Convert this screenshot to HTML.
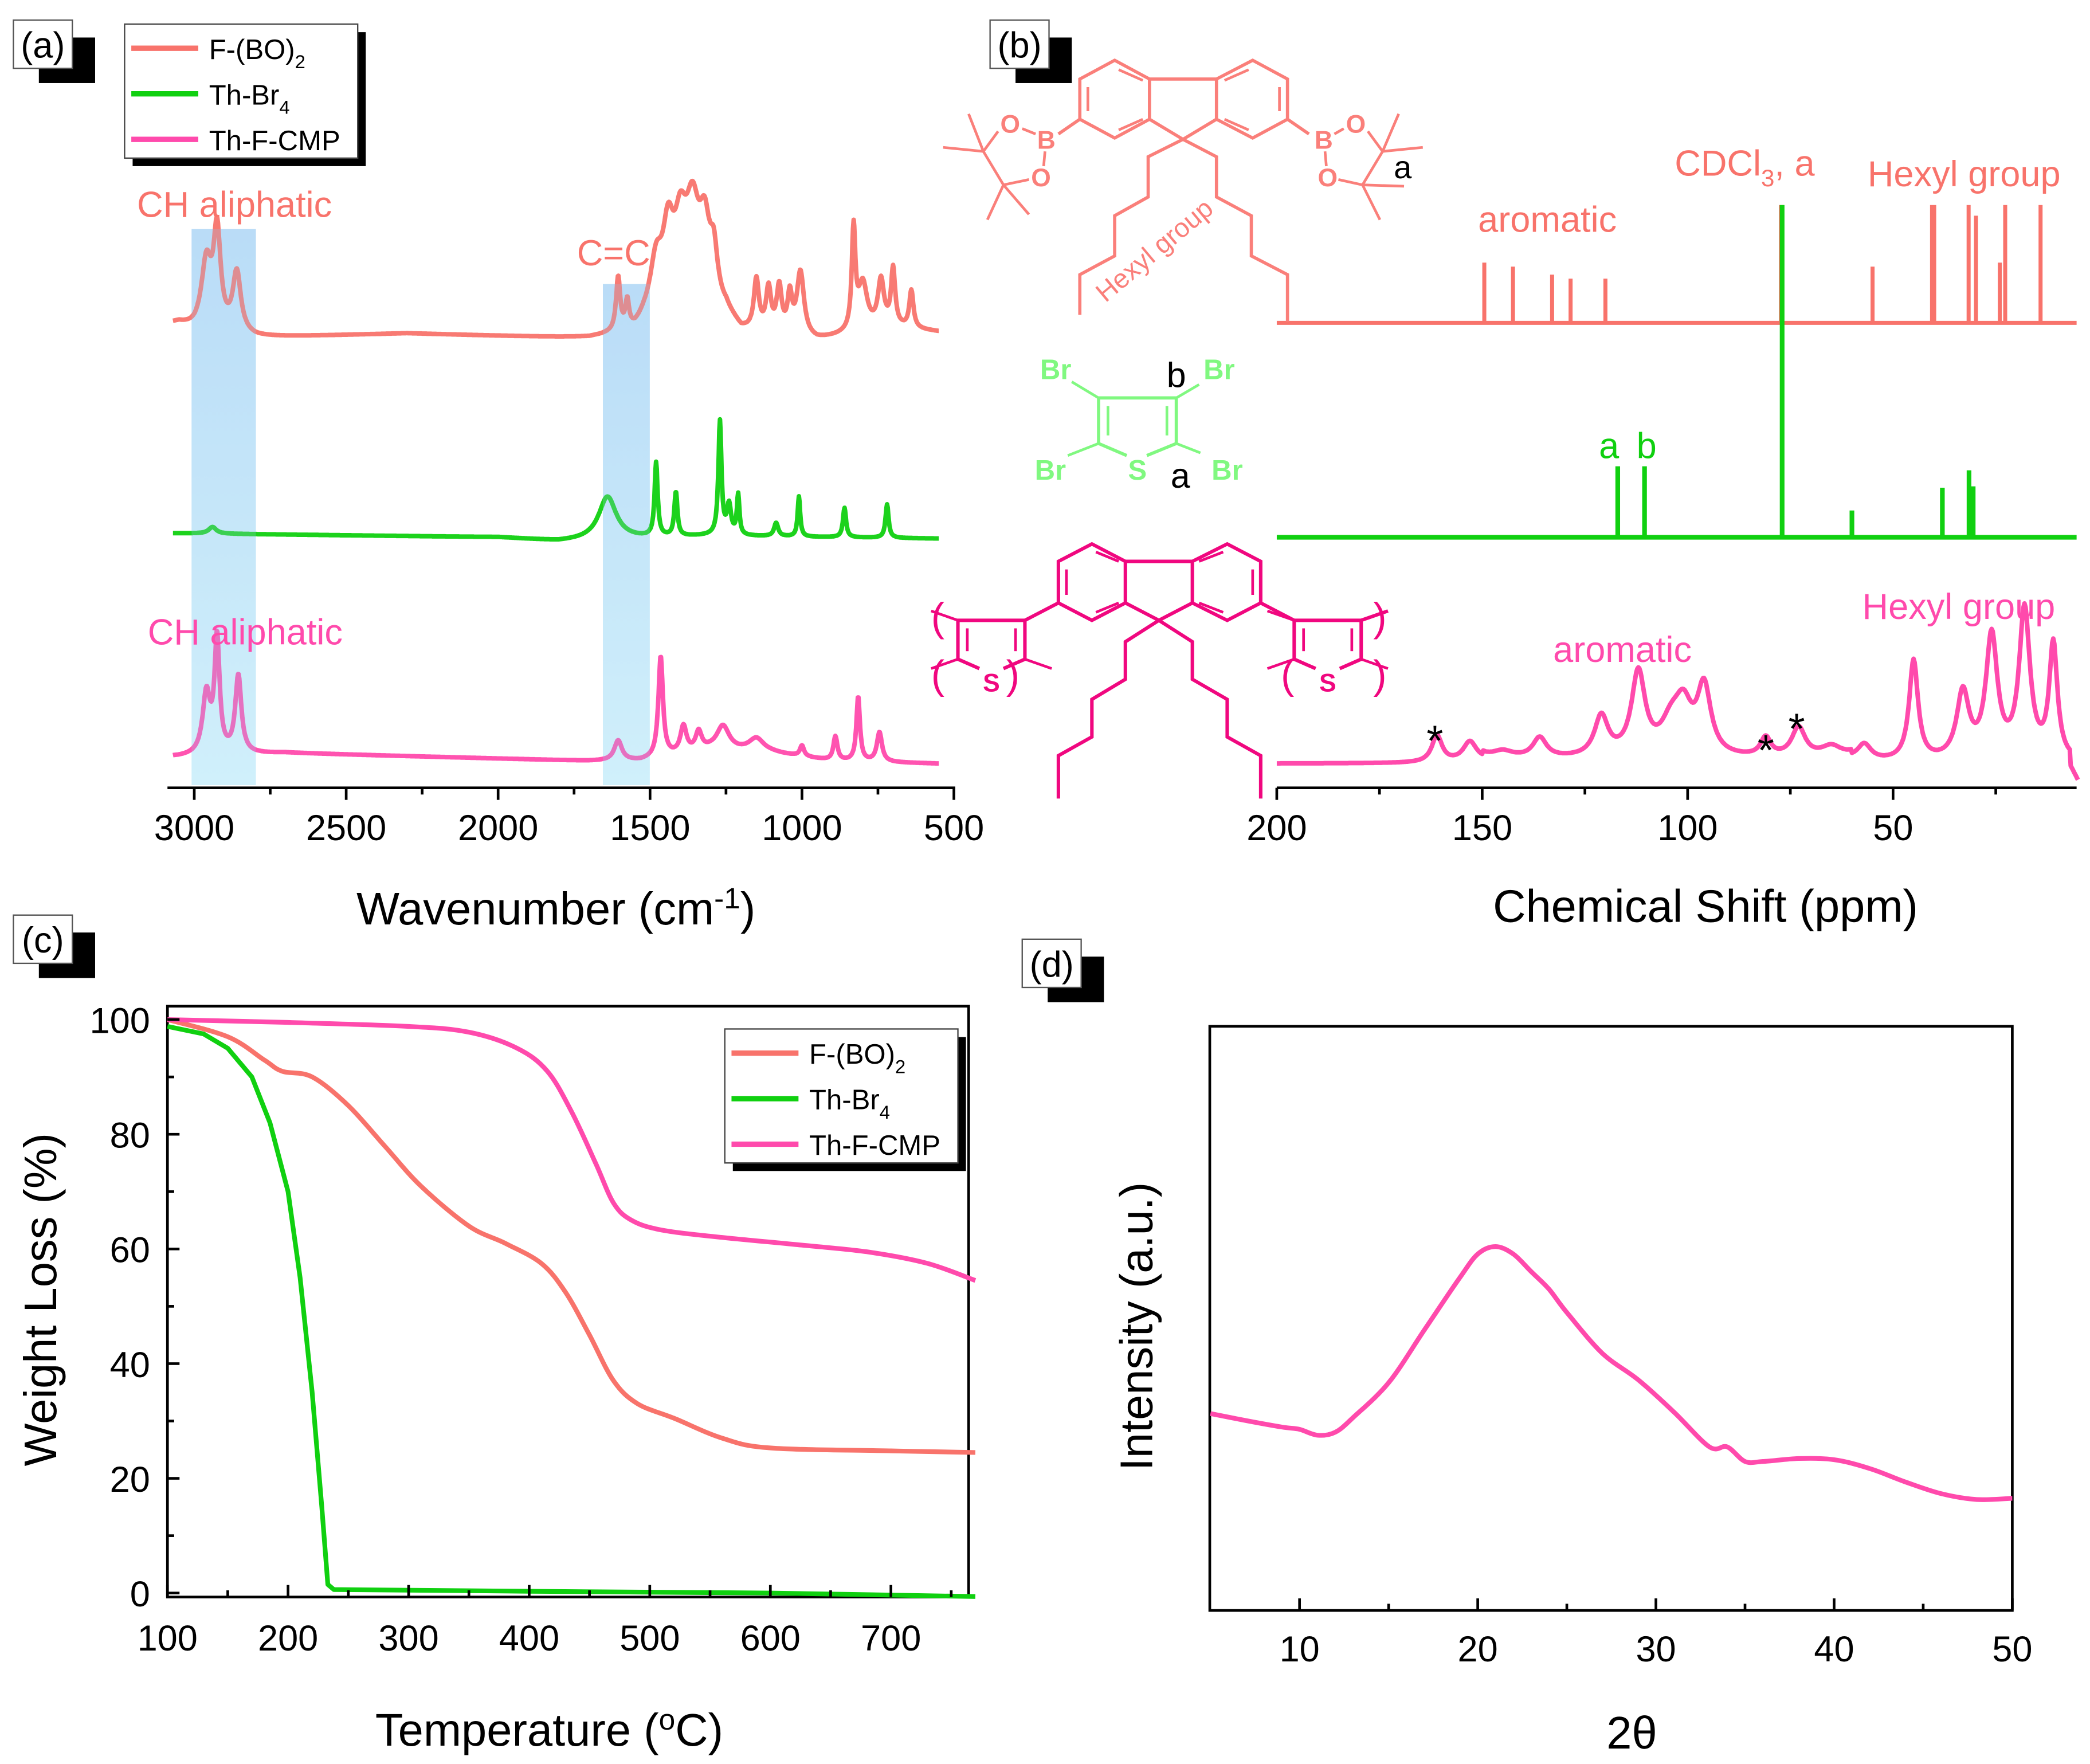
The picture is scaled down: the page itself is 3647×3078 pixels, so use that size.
<!DOCTYPE html>
<html><head><meta charset="utf-8"><style>
html,body{margin:0;padding:0;background:#fff}
svg{display:block}
text{font-family:"Liberation Sans",Arial,sans-serif}
</style></head><body>
<svg id="fig" width="3647" height="3078" viewBox="0 0 1560 1316.6" xmlns="http://www.w3.org/2000/svg">
<defs>
<linearGradient id="hl" x1="0" y1="0" x2="0" y2="1"><stop offset="0" stop-color="#c4e2fa"/><stop offset="1" stop-color="#e2fcff"/></linearGradient>
</defs>
<g id="root"></g>
</svg>
<script>
// ---------- DATA ----------
// FTIR (a)
const irSeries = ["F-(BO)2","Th-Br4","Th-F-CMP"];
const irBase_F = [[3050,242],[3000,247],[2800,252],[2300,249],[1700,253],[1550,250],[1520,245],[1250,238],[1200,250],[950,255],[700,245],[550,248]];
const irPeaks_F = [[2960,50,20],[2925,72,14],[2860,45,16],[1605,40,8],[1575,20,7],[1480,40,25],[1440,55,22],[1400,55,25],[1360,70,28],[1320,55,22],[1290,35,15],[1150,38,10],[1110,32,10],[1075,34,10],[1040,28,9],[1005,48,14],[830,75,7],[800,35,18],[740,35,12],[700,42,8],[640,28,8]];
const irBase_Th = [[3050,398],[2000,401],[1800,404],[1550,402],[1300,400],[550,402]];
const irPeaks_Th = [[2940,5,15],[1640,32,35],[1480,55,6],[1415,33,6],[1270,85,6],[1240,22,8],[1210,30,5],[1085,10,8],[1010,30,5],[860,22,6],[720,25,6]];
const irBase_C = [[3050,565],[2700,562],[1700,568],[1530,568],[1300,560],[1100,562],[900,568],[550,570]];
const irPeaks_C = [[2960,45,15],[2925,85,10],[2855,58,12],[1605,15,15],[1465,75,9],[1390,20,12],[1340,14,12],[1260,18,25],[1150,10,30],[1000,8,8],[890,18,8],[815,48,7],[745,22,10]];
// NMR (b)  [ppm, height px]
const nmrF = [[149.5,45],[142.5,42],[133,36],[128.5,33],[120,33],[77.3,88],[77,88],[55,42],[40.5,88],[40,88],[31.6,88],[29.8,80],[24,45],[22.7,88],[14.1,88]];
const nmrTh = [[117,53],[110.5,53],[77,248],[60,20],[38,37],[31.5,50],[30.5,38]];
const nmrC = [[161,20,1.5],[153,15,2],[145,5,3],[136,15,2],[121,30,2],[112,62,2],[104,22,3],[101,32,2.5],[96,50,2],[81,14,1.5],[73,22,2],[65,8,3],[57,12,2],[45,75,1.3],[33,50,1.8],[26,92,1.7],[18,112,1.6],[11,86,1.2]];
// TGA (c)
const tgaF = [[100,100],[150,97],[180,93],[195,91],[220,90],[250,85],[280,78],[310,71],[350,64],[380,61],[410,57.5],[430,52.5],[450,45],[470,37],[490,33],[520,30.5],[560,27],[600,25.3],[700,24.8],[770,24.5]];
const tgaTh = [[100,98.8],[130,97.5],[150,95],[170,90],[185,82],[200,70],[210,55],[220,35],[228,15],[233,1.5],[238,0.6],[400,0.3],[600,0],[770,-0.6]];
const tgaC = [[100,100],[200,99.5],[300,98.8],[350,97.8],[390,95],[415,91],[435,84],[455,75],[470,68],[485,65],[510,63.3],[560,62],[620,60.8],[680,59.5],[730,57.5],[770,54.5]];
const tgaXTicks = [100,200,300,400,500,600,700];
const tgaYTicks = [0,20,40,60,80,100];
// XRD (d)
const xrdT = [5,7,9,10,11,12,13,15,17,19,20,21,22,23,24,25,27,29,31,33,34,35,36,38,40,42,44,46,48,50];
const xrdI = [33.7,32.5,31.4,31,30,30.5,33,39,48,57,61,62.3,61,58,55,51,44,39.5,34,28,28,25.5,25.5,26,25.8,24.3,22,20,19,19.2];
const xrdXTicks = [10,20,30,40,50];
const irXTicks = [3000,2500,2000,1500,1000,500];
const nmrXTicks = [200,150,100,50];

// ---------- HELPERS ----------
const NS="http://www.w3.org/2000/svg";
const root=document.getElementById('root');
function el(tag,attrs,parent){const e=document.createElementNS(NS,tag);for(const k in attrs)e.setAttribute(k,attrs[k]);(parent||root).appendChild(e);return e;}
function txt(s,x,y,size,fill,anchor,parent){const t=el('text',{x:x,y:y,'font-size':size,fill:fill||'#000','text-anchor':anchor||'start'},parent);t.textContent=s;return t;}
function interp(arr,x){
  const a=arr[0][0]<arr[arr.length-1][0]?arr:arr.slice().reverse();
  if(x<=a[0][0])return a[0][1]; if(x>=a[a.length-1][0])return a[a.length-1][1];
  for(let i=1;i<a.length;i++){if(x<=a[i][0]){const t=(x-a[i-1][0])/(a[i][0]-a[i-1][0]);return a[i-1][1]+t*(a[i][1]-a[i-1][1]);}}
}
const C_F="#f8736b", C_T="#10d010", C_C="#ff4aac";

// ---------- PANEL (a) ----------
const irX = w => 145 + (3000-w)*(567/2500);
const ga=el('g',{});


const hl1=el('rect',{x:143,y:171,width:48,height:415,fill:'url(#hl)'},ga);


const hl2=el('rect',{x:450,y:212,width:35,height:374,fill:'url(#hl)'},ga);


function irPath(base,peaks){
  let d='';
  for(let w=3070;w>=550;w-=2){
    let y=interp(base,w);
    for(const p of peaks){const g=(w-p[0])/p[2];y-=p[1]/(1+g*g);}
    d+=(d?'L':'M')+irX(w).toFixed(1)+','+y.toFixed(1);
  }
  return d;
}
[[irBase_F,irPeaks_F,C_F,'ir-line-f-bo2'],[irBase_Th,irPeaks_Th,C_T,'ir-line-th-br4'],[irBase_C,irPeaks_C,C_C,'ir-line-th-f-cmp']].forEach(s=>{
  const p=el('path',{d:irPath(s[0],s[1]),fill:'none',stroke:s[2],'stroke-width':3.4,'stroke-linejoin':'round','stroke-opacity':0.95},ga);
  
  
});
el('rect',{x:143,y:171,width:48,height:415,fill:'#9ccbf0','fill-opacity':0.25},ga);
el('rect',{x:450,y:212,width:35,height:374,fill:'#9ccbf0','fill-opacity':0.25},ga);
el('line',{x1:125,y1:588,x2:713,y2:588,stroke:'#000','stroke-width':2},ga);
irXTicks.forEach(t=>{el('line',{x1:irX(t),y1:588,x2:irX(t),y2:597,stroke:'#000','stroke-width':2},ga);const l=txt(t,irX(t),627,27,'#000','middle',ga);});
[2750,2250,1750,1250,750].forEach(t=>el('line',{x1:irX(t),y1:588,x2:irX(t),y2:593,stroke:'#000','stroke-width':2},ga));
const at=el('text',{x:415,y:690,'font-size':34,'text-anchor':'middle'},ga);
at.innerHTML='Wavenumber (cm<tspan dy="-12" font-size="22">-1</tspan><tspan dy="12">)</tspan>';


let t1=txt('CH aliphatic',175,162,27,C_F,'middle',ga);
let t2=txt('C=C',458,198,27,C_F,'middle',ga);
let t3=txt('CH aliphatic',183,481,27,C_C,'middle',ga);

function panelLabel(s,x,y,name){
  const g=el('g',{});
  
  
  el('rect',{x:x+19,y:y+13,width:42,height:34,fill:'#000'},g);
  el('rect',{x:x,y:y,width:44,height:36,fill:'#fff',stroke:'#555','stroke-width':1},g);
  txt(s,x+22,y+28,27,'#000','middle',g);
}
panelLabel('(a)',10,15,'panel-label-a');
panelLabel('(b)',739,15,'panel-label-b');
panelLabel('(c)',10,683,'panel-label-c');
panelLabel('(d)',763,701,'panel-label-d');

function legend(x,y,w,h,name){
  const g=el('g',{});
  
  
  el('rect',{x:x+6,y:y+6,width:w,height:h,fill:'#000'},g);
  el('rect',{x:x,y:y,width:w,height:h,fill:'#fff',stroke:'#444','stroke-width':1},g);
  const names=[['F-(BO)','2',C_F],['Th-Br','4',C_T],['Th-F-CMP','',C_C]];
  names.forEach((n,i)=>{
    const yy=y+18+i*34;
    el('line',{x1:x+5,y1:yy,x2:x+55,y2:yy,stroke:n[2],'stroke-width':4},g);
    const t=el('text',{x:x+63,y:yy+8,'font-size':21},g);
    t.innerHTML=n[0]+(n[1]?'<tspan dy="7" font-size="14">'+n[1]+'</tspan>':'');
    
    
  });
}
legend(93,18,174,100,'legend-a');

// ---------- PANEL (b) ----------
const ppmX = p => 953 + (200-p)*(460/150);
const gb=el('g',{});


function sticks(base,peaks,col,w){
  let d='M953,'+base+'L1550,'+base;
  peaks.forEach(p=>{const x=ppmX(p[0]).toFixed(1);d+='M'+x+','+base+'L'+x+','+(base-p[1]);});
  return el('path',{d:d,fill:'none',stroke:col,'stroke-width':w},gb);
}
let s1=sticks(241,nmrF,C_F,3);
let s2=sticks(401,nmrTh,C_T,3.5);
(function(){
  let d='';
  for(let p=200;p>=5;p-=0.25){
    let y=570 - (p<150&&p>60?3:0);
    for(const k of nmrC){const g=(p-k[0])/k[2];y-=k[1]/(1+g*g);}
    if(p<7) y=570+(7-p)*6;
    d+=(d?'L':'M')+ppmX(p).toFixed(1)+','+y.toFixed(1);
  }
  const pth=el('path',{d:d,fill:'none',stroke:C_C,'stroke-width':3.4,'stroke-linejoin':'round'},gb);
  
  
})();
el('line',{x1:953,y1:588,x2:1550,y2:588,stroke:'#000','stroke-width':2},gb);
nmrXTicks.forEach(t=>{el('line',{x1:ppmX(t),y1:588,x2:ppmX(t),y2:597,stroke:'#000','stroke-width':2},gb);const l=txt(t,ppmX(t),627,27,'#000','middle',gb);});
[175,125,75,25].forEach(t=>el('line',{x1:ppmX(t),y1:588,x2:ppmX(t),y2:593,stroke:'#000','stroke-width':2},gb));
let nt=txt('Chemical Shift (ppm)',1273,688,34,'#000','middle',gb);
[['aromatic',1155,173,C_F],['Hexyl group',1466,139,C_F],['aromatic',1211,494,C_C],['Hexyl group',1462,462,C_C]].forEach(a=>{const t=txt(a[0],a[1],a[2],27,a[3],'middle',gb);});
let cd=el('text',{x:1250,y:131,'font-size':27,fill:C_F},gb);cd.innerHTML='CDCl<tspan dy="8" font-size="18">3</tspan><tspan dy="-8">, a</tspan>';

txt('a',1201,342,27,C_T,'middle',gb);txt('b',1229,342,27,C_T,'middle',gb);
[[1071,552],[1318,559],[1341,543]].forEach(s=>txt('*',s[0],s[1]+12,32,'#000','middle',gb));

function poly(pts,col,w,g,closed){return el(closed?'polygon':'polyline',{points:pts.map(p=>p.join(',')).join(' '),fill:'none',stroke:col,'stroke-width':w,'stroke-linejoin':'miter'},g);}
function line(a,b,col,w,g){return el('line',{x1:a[0],y1:a[1],x2:b[0],y2:b[1],stroke:col,'stroke-width':w},g);}
const SF="#fa7f7a", ST="#80f880", SC="#f0077f";
const gs1=el('g',{});
poly([[806,59],[832,45],[858,59],[858,89],[832,103],[806,89]],SF,2.4,gs1,true);
poly([[908,59],[935,45],[961,59],[961,89],[935,103],[908,89]],SF,2.4,gs1,true);
line([858,59],[908,59],SF,2.4,gs1);line([858,89],[883,104],SF,2.4,gs1);line([908,89],[883,104],SF,2.4,gs1);
line([812,65],[812,83],SF,2,gs1);line([835,52],[853,60],SF,2,gs1);line([835,97],[853,89],SF,2,gs1);
line([955,65],[955,83],SF,2,gs1);line([914,60],[932,52],SF,2,gs1);line([914,89],[932,97],SF,2,gs1);
poly([[883,104],[857,117],[857,147],[832,161],[832,191],[806,205],[806,235]],SF,2.4,gs1);
poly([[883,104],[908,117],[908,147],[934,161],[934,191],[961,205],[961,240]],SF,2.4,gs1);
line([806,89],[790,100],SF,2.4,gs1);line([961,89],[977,100],SF,2.4,gs1);
[['B',781,111],['O',754,99],['O',777,139],['B',988,111],['O',1012,99],['O',991,139]].forEach(a=>txt(a[0],a[1],a[2],19,SF,'middle',gs1).setAttribute('font-weight','bold'));
line([773,100],[763,96],SF,2,gs1);line([780,113],[779,124],SF,2,gs1);line([745,98],[734,113],SF,2,gs1);line([768,134],[749,138],SF,2,gs1);line([734,113],[749,138],SF,2,gs1);
line([734,113],[723,85],SF,2,gs1);line([734,113],[704,110],SF,2,gs1);line([749,138],[737,164],SF,2,gs1);line([749,138],[768,160],SF,2,gs1);
line([996,100],[1003,96],SF,2,gs1);line([989,113],[990,124],SF,2,gs1);line([1021,98],[1032,113],SF,2,gs1);line([999,134],[1017,138],SF,2,gs1);line([1032,113],[1017,138],SF,2,gs1);
line([1032,113],[1044,85],SF,2,gs1);line([1032,113],[1062,110],SF,2,gs1);line([1017,138],[1048,139],SF,2,gs1);line([1017,138],[1030,164],SF,2,gs1);
txt('a',1047,133,24,'#000','middle',gs1);
txt('Hexyl group',0,0,20,SF,'middle',gs1).setAttribute('transform','translate(866,192) rotate(-40)');
const gs2=el('g',{});
poly([[820,297],[878,297],[878,331],[856,340]],ST,2.4,gs2);poly([[820,297],[820,331],[841,340]],ST,2.4,gs2);
line([827,303],[827,325],ST,2,gs2);line([871,303],[871,325],ST,2,gs2);
line([820,297],[800,285],ST,2,gs2);line([878,297],[895,287],ST,2,gs2);line([820,331],[797,340],ST,2,gs2);line([878,331],[896,338],ST,2,gs2);
[['Br',788,283],['Br',910,283],['Br',784,358],['Br',916,358],['S',849,358]].forEach(a=>txt(a[0],a[1],a[2],21,ST,'middle',gs2).setAttribute('font-weight','bold'));
txt('b',878,289,26,'#000','middle',gs2);txt('a',881,364,26,'#000','middle',gs2);
const gs3=el('g',{});
poly([[790,419],[815,406],[840,419],[840,450],[815,463],[790,450]],SC,2.6,gs3,true);
poly([[890,419],[916,406],[941,419],[941,450],[916,463],[890,450]],SC,2.6,gs3,true);
line([840,419],[890,419],SC,2.6,gs3);line([840,450],[865,463],SC,2.6,gs3);line([890,450],[865,463],SC,2.6,gs3);
line([796,425],[796,444],SC,2,gs3);line([818,412],[835,419],SC,2,gs3);line([818,457],[835,450],SC,2,gs3);
line([935,425],[935,444],SC,2,gs3);line([895,419],[913,412],SC,2,gs3);line([895,450],[913,457],SC,2,gs3);
poly([[865,463],[840,479],[840,507],[815,522],[815,550],[790,564],[790,596]],SC,2.6,gs3);
poly([[865,463],[890,479],[890,507],[916,522],[916,550],[941,564],[941,596]],SC,2.6,gs3);
function thio(x0,g){
  poly([[x0,492],[x0,463],[x0+50,463],[x0+50,492],[x0+34,499]],SC,2.6,g);line([x0,492],[x0+16,499],SC,2.6,g);
  line([x0+7,469],[x0+7,486],SC,2,g);line([x0+43,469],[x0+43,486],SC,2,g);
  txt('S',x0+25,516,19,SC,'middle',g).setAttribute('font-weight','bold');
  line([x0,463],[x0-20,456],SC,2,g);line([x0,492],[x0-20,499],SC,2,g);line([x0+50,492],[x0+70,499],SC,2,g);
}
thio(715,gs3);thio(966,gs3);
line([790,450],[765,463],SC,2.6,gs3);line([941,450],[966,463],SC,2.6,gs3);line([1016,463],[1036,456],SC,2.6,gs3);
[[700,461,'('],[700,504,'('],[756,504,')'],[961,504,'('],[1030,461,')'],[1030,504,')']].forEach(b=>txt(b[2],b[0],b[1]+10,30,SC,'middle',gs3));

// ---------- PANEL (c) ----------
const tX = t => 125 + (t-100)*0.9;
const tY = v => 1189 - v*4.28;
const gc=el('g',{});


el('rect',{x:125,y:751,width:598,height:441,fill:'none',stroke:'#000','stroke-width':2},gc);
function smooth(pts){let d='M'+pts[0][0]+','+pts[0][1];for(let i=0;i<pts.length-1;i++){const p0=pts[i-1]||pts[i],p1=pts[i],p2=pts[i+1],p3=pts[i+2]||p2;d+='C'+(p1[0]+(p2[0]-p0[0])/6).toFixed(1)+','+(p1[1]+(p2[1]-p0[1])/6).toFixed(1)+' '+(p2[0]-(p3[0]-p1[0])/6).toFixed(1)+','+(p2[1]-(p3[1]-p1[1])/6).toFixed(1)+' '+p2[0].toFixed(1)+','+p2[1].toFixed(1);}return d;}
function straight(pts){return 'M'+pts.map(p=>p[0].toFixed(1)+','+p[1].toFixed(1)).join('L');}
[[tgaF,C_F,'tga-f-bo2',smooth],[tgaTh,C_T,'tga-th-br4',straight],[tgaC,C_C,'tga-th-f-cmp',smooth]].forEach(s=>{
  const p=el('path',{d:s[3](s[0].map(q=>[tX(q[0]),tY(q[1])])),fill:'none',stroke:s[1],'stroke-width':3.5,'stroke-linejoin':'round'},gc);
  
  
});
tgaXTicks.forEach(t=>{el('line',{x1:tX(t),y1:1192,x2:tX(t),y2:1183,stroke:'#000','stroke-width':2},gc);const l=txt(t,tX(t),1232,27,'#000','middle',gc);});
[150,250,350,450,550,650,750].forEach(t=>el('line',{x1:tX(t),y1:1192,x2:tX(t),y2:1187,stroke:'#000','stroke-width':2},gc));
tgaYTicks.forEach(v=>{el('line',{x1:125,y1:tY(v),x2:134,y2:tY(v),stroke:'#000','stroke-width':2},gc);const l=txt(v,112,tY(v)+10,27,'#000','end',gc);});
[10,30,50,70,90].forEach(v=>el('line',{x1:125,y1:tY(v),x2:130,y2:tY(v),stroke:'#000','stroke-width':2},gc));
const tt=el('text',{x:410,y:1303,'font-size':34,'text-anchor':'middle'},gc);tt.innerHTML='Temperature (<tspan dy="-12" font-size="22">o</tspan><tspan dy="12">C)</tspan>';

const ty=txt('Weight Loss (%)',0,0,34,'#000','middle',gc);ty.setAttribute('transform','translate(42,970) rotate(-90)');

legend(541,768,174,100,'legend-c');

// ---------- PANEL (d) ----------
const dX = t => 903.5 + (t-5)*13.3;
const dY = v => 1202 - v*4.36;
const gd=el('g',{});


el('rect',{x:903,y:766,width:599,height:436,fill:'none',stroke:'#000','stroke-width':2},gd);
const xp=el('path',{d:smooth(xrdT.map((t,i)=>[dX(t),dY(xrdI[i])])),fill:'none',stroke:C_C,'stroke-width':3.5},gd);

xrdXTicks.forEach(t=>{el('line',{x1:dX(t),y1:1202,x2:dX(t),y2:1193,stroke:'#000','stroke-width':2},gd);const l=txt(t,dX(t),1240,27,'#000','middle',gd);});
[15,25,35,45].forEach(t=>el('line',{x1:dX(t),y1:1202,x2:dX(t),y2:1197,stroke:'#000','stroke-width':2},gd));
const dt=txt('2θ',1218,1305,34,'#000','middle',gd);dt.setAttribute('font-family','"Liberation Serif",serif');

const dy=txt('Intensity (a.u.)',0,0,34,'#000','middle',gd);dy.setAttribute('transform','translate(860,990) rotate(-90)');

</script>
</body></html>
